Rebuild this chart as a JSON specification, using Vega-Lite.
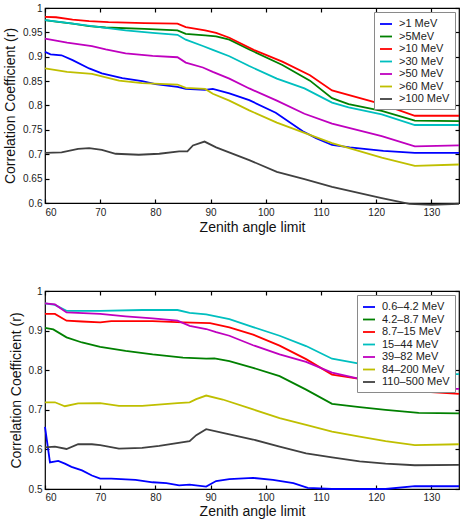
{
  "$schema": "https://vega.github.io/schema/vega-lite/v6.json",
  "background": "white",
  "padding": {"left": 2, "top": 2, "right": 5, "bottom": 4},
  "spacing": 50,
  "config": {
    "view": {"stroke": "black", "strokeWidth": 1.2},
    "font": "Liberation Sans",
    "axis": {
      "labelFont": "Liberation Sans",
      "labelFontSize": 10,
      "labelColor": "#222",
      "titleFont": "Liberation Sans",
      "titleFontSize": 14,
      "titleFontWeight": "normal",
      "titleColor": "#111",
      "grid": false,
      "domain": false,
      "tickColor": "black",
      "tickSize": -4,
      "tickWidth": 1.2
    },
    "legend": {
      "orient": "top-right",
      "offset": 4,
      "strokeColor": "#8a8a8a",
      "fillColor": "white",
      "padding": 5,
      "symbolType": "stroke",
      "symbolSize": 144,
      "symbolStrokeWidth": 2,
      "labelFont": "Liberation Sans",
      "labelFontSize": 11,
      "labelColor": "#222",
      "rowPadding": 0.5,
      "labelOffset": 6
    },
    "line": {"strokeWidth": 1.8, "clip": true}
  },
  "datasets": {
    "top": [
      {"angle": 60, "band": ">1 MeV", "r": 0.910}, {"angle": 61, "band": ">1 MeV", "r": 0.905}, {"angle": 63, "band": ">1 MeV", "r": 0.903}, {"angle": 65, "band": ">1 MeV", "r": 0.893}, {"angle": 68, "band": ">1 MeV", "r": 0.876}, {"angle": 70.3, "band": ">1 MeV", "r": 0.866}, {"angle": 74, "band": ">1 MeV", "r": 0.856}, {"angle": 77.6, "band": ">1 MeV", "r": 0.850}, {"angle": 80, "band": ">1 MeV", "r": 0.844}, {"angle": 84, "band": ">1 MeV", "r": 0.838}, {"angle": 85.5, "band": ">1 MeV", "r": 0.834}, {"angle": 89, "band": ">1 MeV", "r": 0.832}, {"angle": 90.4, "band": ">1 MeV", "r": 0.834}, {"angle": 93.4, "band": ">1 MeV", "r": 0.825}, {"angle": 97, "band": ">1 MeV", "r": 0.811}, {"angle": 101.8, "band": ">1 MeV", "r": 0.785}, {"angle": 106.7, "band": ">1 MeV", "r": 0.747}, {"angle": 109.1, "band": ">1 MeV", "r": 0.733}, {"angle": 112, "band": ">1 MeV", "r": 0.719}, {"angle": 115.2, "band": ">1 MeV", "r": 0.714}, {"angle": 121.3, "band": ">1 MeV", "r": 0.707}, {"angle": 127, "band": ">1 MeV", "r": 0.703}, {"angle": 135, "band": ">1 MeV", "r": 0.703},
      {"angle": 60, "band": ">5MeV", "r": 0.975}, {"angle": 62, "band": ">5MeV", "r": 0.972}, {"angle": 65, "band": ">5MeV", "r": 0.968}, {"angle": 68, "band": ">5MeV", "r": 0.963}, {"angle": 71, "band": ">5MeV", "r": 0.960}, {"angle": 78, "band": ">5MeV", "r": 0.957}, {"angle": 84, "band": ">5MeV", "r": 0.954}, {"angle": 85.5, "band": ">5MeV", "r": 0.947}, {"angle": 89, "band": ">5MeV", "r": 0.944}, {"angle": 91, "band": ">5MeV", "r": 0.942}, {"angle": 93.4, "band": ">5MeV", "r": 0.935}, {"angle": 97, "band": ">5MeV", "r": 0.915}, {"angle": 103, "band": ">5MeV", "r": 0.883}, {"angle": 108, "band": ">5MeV", "r": 0.851}, {"angle": 112, "band": ">5MeV", "r": 0.815}, {"angle": 115, "band": ">5MeV", "r": 0.803}, {"angle": 121, "band": ">5MeV", "r": 0.789}, {"angle": 127, "band": ">5MeV", "r": 0.769}, {"angle": 135, "band": ">5MeV", "r": 0.768},
      {"angle": 60, "band": ">10 MeV", "r": 0.982}, {"angle": 62, "band": ">10 MeV", "r": 0.981}, {"angle": 65, "band": ">10 MeV", "r": 0.976}, {"angle": 68, "band": ">10 MeV", "r": 0.973}, {"angle": 71.5, "band": ">10 MeV", "r": 0.971}, {"angle": 78, "band": ">10 MeV", "r": 0.969}, {"angle": 84, "band": ">10 MeV", "r": 0.968}, {"angle": 85.5, "band": ">10 MeV", "r": 0.961}, {"angle": 89, "band": ">10 MeV", "r": 0.954}, {"angle": 91, "band": ">10 MeV", "r": 0.949}, {"angle": 93.4, "band": ">10 MeV", "r": 0.939}, {"angle": 97.8, "band": ">10 MeV", "r": 0.914}, {"angle": 103, "band": ">10 MeV", "r": 0.890}, {"angle": 108, "band": ">10 MeV", "r": 0.862}, {"angle": 112, "band": ">10 MeV", "r": 0.831}, {"angle": 121, "band": ">10 MeV", "r": 0.803}, {"angle": 127, "band": ">10 MeV", "r": 0.779}, {"angle": 135, "band": ">10 MeV", "r": 0.779},
      {"angle": 60, "band": ">30 MeV", "r": 0.975}, {"angle": 63, "band": ">30 MeV", "r": 0.971}, {"angle": 68.5, "band": ">30 MeV", "r": 0.963}, {"angle": 74.6, "band": ">30 MeV", "r": 0.954}, {"angle": 79.5, "band": ">30 MeV", "r": 0.949}, {"angle": 84, "band": ">30 MeV", "r": 0.945}, {"angle": 85.5, "band": ">30 MeV", "r": 0.935}, {"angle": 88.6, "band": ">30 MeV", "r": 0.922}, {"angle": 90.4, "band": ">30 MeV", "r": 0.914}, {"angle": 93.4, "band": ">30 MeV", "r": 0.901}, {"angle": 97, "band": ">30 MeV", "r": 0.881}, {"angle": 102, "band": ">30 MeV", "r": 0.855}, {"angle": 107, "band": ">30 MeV", "r": 0.835}, {"angle": 112, "band": ">30 MeV", "r": 0.806}, {"angle": 115, "band": ">30 MeV", "r": 0.796}, {"angle": 121, "band": ">30 MeV", "r": 0.782}, {"angle": 127, "band": ">30 MeV", "r": 0.760}, {"angle": 135, "band": ">30 MeV", "r": 0.760},
      {"angle": 60, "band": ">50 MeV", "r": 0.937}, {"angle": 64, "band": ">50 MeV", "r": 0.929}, {"angle": 68.5, "band": ">50 MeV", "r": 0.922}, {"angle": 71, "band": ">50 MeV", "r": 0.915}, {"angle": 74.6, "band": ">50 MeV", "r": 0.907}, {"angle": 79.5, "band": ">50 MeV", "r": 0.902}, {"angle": 84, "band": ">50 MeV", "r": 0.899}, {"angle": 85.5, "band": ">50 MeV", "r": 0.888}, {"angle": 88.6, "band": ">50 MeV", "r": 0.878}, {"angle": 90.4, "band": ">50 MeV", "r": 0.869}, {"angle": 93.4, "band": ">50 MeV", "r": 0.855}, {"angle": 97, "band": ">50 MeV", "r": 0.835}, {"angle": 102, "band": ">50 MeV", "r": 0.810}, {"angle": 107, "band": ">50 MeV", "r": 0.783}, {"angle": 112, "band": ">50 MeV", "r": 0.763}, {"angle": 121, "band": ">50 MeV", "r": 0.737}, {"angle": 127, "band": ">50 MeV", "r": 0.716}, {"angle": 135, "band": ">50 MeV", "r": 0.718},
      {"angle": 60, "band": ">60 MeV", "r": 0.876}, {"angle": 64, "band": ">60 MeV", "r": 0.869}, {"angle": 68.5, "band": ">60 MeV", "r": 0.865}, {"angle": 73.4, "band": ">60 MeV", "r": 0.851}, {"angle": 77.6, "band": ">60 MeV", "r": 0.846}, {"angle": 84, "band": ">60 MeV", "r": 0.843}, {"angle": 85.5, "band": ">60 MeV", "r": 0.836}, {"angle": 89, "band": ">60 MeV", "r": 0.834}, {"angle": 90.4, "band": ">60 MeV", "r": 0.824}, {"angle": 93.4, "band": ">60 MeV", "r": 0.810}, {"angle": 97, "band": ">60 MeV", "r": 0.790}, {"angle": 102, "band": ">60 MeV", "r": 0.765}, {"angle": 107, "band": ">60 MeV", "r": 0.744}, {"angle": 112, "band": ">60 MeV", "r": 0.723}, {"angle": 121, "band": ">60 MeV", "r": 0.693}, {"angle": 127, "band": ">60 MeV", "r": 0.676}, {"angle": 135, "band": ">60 MeV", "r": 0.679},
      {"angle": 60, "band": ">100 MeV", "r": 0.703}, {"angle": 63, "band": ">100 MeV", "r": 0.704}, {"angle": 66, "band": ">100 MeV", "r": 0.711}, {"angle": 68, "band": ">100 MeV", "r": 0.7125}, {"angle": 70.3, "band": ">100 MeV", "r": 0.709}, {"angle": 72.8, "band": ">100 MeV", "r": 0.701}, {"angle": 77, "band": ">100 MeV", "r": 0.699}, {"angle": 80.7, "band": ">100 MeV", "r": 0.701}, {"angle": 84.3, "band": ">100 MeV", "r": 0.706}, {"angle": 85.8, "band": ">100 MeV", "r": 0.706}, {"angle": 86.8, "band": ">100 MeV", "r": 0.718}, {"angle": 88.9, "band": ">100 MeV", "r": 0.726}, {"angle": 91, "band": ">100 MeV", "r": 0.714}, {"angle": 97, "band": ">100 MeV", "r": 0.688}, {"angle": 102, "band": ">100 MeV", "r": 0.664}, {"angle": 107, "band": ">100 MeV", "r": 0.649}, {"angle": 112, "band": ">100 MeV", "r": 0.633}, {"angle": 121, "band": ">100 MeV", "r": 0.610}, {"angle": 126, "band": ">100 MeV", "r": 0.598}, {"angle": 130, "band": ">100 MeV", "r": 0.596}, {"angle": 135, "band": ">100 MeV", "r": 0.598}
    ],
    "bottom": [
      {"angle": 60, "band": "0.6–4.2 MeV", "r": 0.657}, {"angle": 60.9, "band": "0.6–4.2 MeV", "r": 0.567}, {"angle": 62.4, "band": "0.6–4.2 MeV", "r": 0.571}, {"angle": 63.6, "band": "0.6–4.2 MeV", "r": 0.564}, {"angle": 64.8, "band": "0.6–4.2 MeV", "r": 0.556}, {"angle": 66.7, "band": "0.6–4.2 MeV", "r": 0.547}, {"angle": 68.5, "band": "0.6–4.2 MeV", "r": 0.534}, {"angle": 70, "band": "0.6–4.2 MeV", "r": 0.526}, {"angle": 72, "band": "0.6–4.2 MeV", "r": 0.526}, {"angle": 76.4, "band": "0.6–4.2 MeV", "r": 0.523}, {"angle": 79.5, "band": "0.6–4.2 MeV", "r": 0.517}, {"angle": 82, "band": "0.6–4.2 MeV", "r": 0.515}, {"angle": 84.3, "band": "0.6–4.2 MeV", "r": 0.509}, {"angle": 86.2, "band": "0.6–4.2 MeV", "r": 0.511}, {"angle": 89.2, "band": "0.6–4.2 MeV", "r": 0.506}, {"angle": 91, "band": "0.6–4.2 MeV", "r": 0.520}, {"angle": 93.4, "band": "0.6–4.2 MeV", "r": 0.525}, {"angle": 97.7, "band": "0.6–4.2 MeV", "r": 0.528}, {"angle": 101.3, "band": "0.6–4.2 MeV", "r": 0.523}, {"angle": 105, "band": "0.6–4.2 MeV", "r": 0.515}, {"angle": 107.6, "band": "0.6–4.2 MeV", "r": 0.503}, {"angle": 112, "band": "0.6–4.2 MeV", "r": 0.500}, {"angle": 121.7, "band": "0.6–4.2 MeV", "r": 0.500}, {"angle": 127, "band": "0.6–4.2 MeV", "r": 0.507}, {"angle": 135, "band": "0.6–4.2 MeV", "r": 0.507},
      {"angle": 60, "band": "4.2–8.7 MeV", "r": 0.907}, {"angle": 61.5, "band": "4.2–8.7 MeV", "r": 0.903}, {"angle": 63.9, "band": "4.2–8.7 MeV", "r": 0.883}, {"angle": 66.7, "band": "4.2–8.7 MeV", "r": 0.870}, {"angle": 70, "band": "4.2–8.7 MeV", "r": 0.859}, {"angle": 74.6, "band": "4.2–8.7 MeV", "r": 0.849}, {"angle": 79.5, "band": "4.2–8.7 MeV", "r": 0.840}, {"angle": 85, "band": "4.2–8.7 MeV", "r": 0.832}, {"angle": 89.2, "band": "4.2–8.7 MeV", "r": 0.829}, {"angle": 90.7, "band": "4.2–8.7 MeV", "r": 0.830}, {"angle": 93.4, "band": "4.2–8.7 MeV", "r": 0.823}, {"angle": 97.7, "band": "4.2–8.7 MeV", "r": 0.806}, {"angle": 102.5, "band": "4.2–8.7 MeV", "r": 0.785}, {"angle": 107.3, "band": "4.2–8.7 MeV", "r": 0.751}, {"angle": 112, "band": "4.2–8.7 MeV", "r": 0.715}, {"angle": 117, "band": "4.2–8.7 MeV", "r": 0.707}, {"angle": 121.7, "band": "4.2–8.7 MeV", "r": 0.700}, {"angle": 127.7, "band": "4.2–8.7 MeV", "r": 0.692}, {"angle": 135, "band": "4.2–8.7 MeV", "r": 0.691},
      {"angle": 60, "band": "8.7–15 MeV", "r": 0.942}, {"angle": 61.8, "band": "8.7–15 MeV", "r": 0.942}, {"angle": 63.9, "band": "8.7–15 MeV", "r": 0.925}, {"angle": 66.7, "band": "8.7–15 MeV", "r": 0.923}, {"angle": 70, "band": "8.7–15 MeV", "r": 0.921}, {"angle": 72, "band": "8.7–15 MeV", "r": 0.924}, {"angle": 79.5, "band": "8.7–15 MeV", "r": 0.924}, {"angle": 85, "band": "8.7–15 MeV", "r": 0.921}, {"angle": 89.9, "band": "8.7–15 MeV", "r": 0.919}, {"angle": 93.4, "band": "8.7–15 MeV", "r": 0.908}, {"angle": 97.7, "band": "8.7–15 MeV", "r": 0.890}, {"angle": 102.5, "band": "8.7–15 MeV", "r": 0.862}, {"angle": 107.3, "band": "8.7–15 MeV", "r": 0.828}, {"angle": 112, "band": "8.7–15 MeV", "r": 0.789}, {"angle": 117, "band": "8.7–15 MeV", "r": 0.778}, {"angle": 121.7, "band": "8.7–15 MeV", "r": 0.764}, {"angle": 127, "band": "8.7–15 MeV", "r": 0.747}, {"angle": 135, "band": "8.7–15 MeV", "r": 0.740},
      {"angle": 60, "band": "15–44 MeV", "r": 0.969}, {"angle": 61.8, "band": "15–44 MeV", "r": 0.965}, {"angle": 63.9, "band": "15–44 MeV", "r": 0.950}, {"angle": 70, "band": "15–44 MeV", "r": 0.950}, {"angle": 77.6, "band": "15–44 MeV", "r": 0.952}, {"angle": 84, "band": "15–44 MeV", "r": 0.952}, {"angle": 86.2, "band": "15–44 MeV", "r": 0.945}, {"angle": 89.2, "band": "15–44 MeV", "r": 0.941}, {"angle": 93.4, "band": "15–44 MeV", "r": 0.929}, {"angle": 97.7, "band": "15–44 MeV", "r": 0.909}, {"angle": 102.5, "band": "15–44 MeV", "r": 0.887}, {"angle": 107.3, "band": "15–44 MeV", "r": 0.861}, {"angle": 112, "band": "15–44 MeV", "r": 0.829}, {"angle": 115.7, "band": "15–44 MeV", "r": 0.820}, {"angle": 121, "band": "15–44 MeV", "r": 0.806}, {"angle": 127, "band": "15–44 MeV", "r": 0.790}, {"angle": 135, "band": "15–44 MeV", "r": 0.790},
      {"angle": 60, "band": "39–82 MeV", "r": 0.969}, {"angle": 61.8, "band": "39–82 MeV", "r": 0.966}, {"angle": 63.9, "band": "39–82 MeV", "r": 0.946}, {"angle": 70, "band": "39–82 MeV", "r": 0.942}, {"angle": 74.6, "band": "39–82 MeV", "r": 0.936}, {"angle": 79.5, "band": "39–82 MeV", "r": 0.931}, {"angle": 84, "band": "39–82 MeV", "r": 0.925}, {"angle": 86.2, "band": "39–82 MeV", "r": 0.912}, {"angle": 89.2, "band": "39–82 MeV", "r": 0.904}, {"angle": 91, "band": "39–82 MeV", "r": 0.896}, {"angle": 93.4, "band": "39–82 MeV", "r": 0.887}, {"angle": 97.7, "band": "39–82 MeV", "r": 0.863}, {"angle": 102.5, "band": "39–82 MeV", "r": 0.840}, {"angle": 107.3, "band": "39–82 MeV", "r": 0.821}, {"angle": 112, "band": "39–82 MeV", "r": 0.794}, {"angle": 117, "band": "39–82 MeV", "r": 0.778}, {"angle": 127, "band": "39–82 MeV", "r": 0.753}, {"angle": 135, "band": "39–82 MeV", "r": 0.753},
      {"angle": 60, "band": "84–200 MeV", "r": 0.719}, {"angle": 61.8, "band": "84–200 MeV", "r": 0.719}, {"angle": 63.6, "band": "84–200 MeV", "r": 0.709}, {"angle": 66, "band": "84–200 MeV", "r": 0.716}, {"angle": 70, "band": "84–200 MeV", "r": 0.717}, {"angle": 73.4, "band": "84–200 MeV", "r": 0.710}, {"angle": 77.6, "band": "84–200 MeV", "r": 0.710}, {"angle": 84, "band": "84–200 MeV", "r": 0.717}, {"angle": 86.2, "band": "84–200 MeV", "r": 0.719}, {"angle": 87.4, "band": "84–200 MeV", "r": 0.727}, {"angle": 89.2, "band": "84–200 MeV", "r": 0.736}, {"angle": 92.2, "band": "84–200 MeV", "r": 0.726}, {"angle": 97.7, "band": "84–200 MeV", "r": 0.701}, {"angle": 102.5, "band": "84–200 MeV", "r": 0.679}, {"angle": 107.3, "band": "84–200 MeV", "r": 0.662}, {"angle": 112, "band": "84–200 MeV", "r": 0.645}, {"angle": 117, "band": "84–200 MeV", "r": 0.632}, {"angle": 121.7, "band": "84–200 MeV", "r": 0.621}, {"angle": 127, "band": "84–200 MeV", "r": 0.611}, {"angle": 135, "band": "84–200 MeV", "r": 0.613},
      {"angle": 60, "band": "110–500 MeV", "r": 0.605}, {"angle": 61.8, "band": "110–500 MeV", "r": 0.607}, {"angle": 63.9, "band": "110–500 MeV", "r": 0.601}, {"angle": 66, "band": "110–500 MeV", "r": 0.613}, {"angle": 68.5, "band": "110–500 MeV", "r": 0.613}, {"angle": 70, "band": "110–500 MeV", "r": 0.611}, {"angle": 73.4, "band": "110–500 MeV", "r": 0.602}, {"angle": 77.6, "band": "110–500 MeV", "r": 0.604}, {"angle": 80.7, "band": "110–500 MeV", "r": 0.609}, {"angle": 86.2, "band": "110–500 MeV", "r": 0.621}, {"angle": 87.4, "band": "110–500 MeV", "r": 0.636}, {"angle": 89.2, "band": "110–500 MeV", "r": 0.651}, {"angle": 92.2, "band": "110–500 MeV", "r": 0.642}, {"angle": 97.7, "band": "110–500 MeV", "r": 0.625}, {"angle": 102.5, "band": "110–500 MeV", "r": 0.607}, {"angle": 107.3, "band": "110–500 MeV", "r": 0.590}, {"angle": 112, "band": "110–500 MeV", "r": 0.580}, {"angle": 117, "band": "110–500 MeV", "r": 0.570}, {"angle": 121.7, "band": "110–500 MeV", "r": 0.564}, {"angle": 127, "band": "110–500 MeV", "r": 0.560}, {"angle": 135, "band": "110–500 MeV", "r": 0.561}
    ]
  },
  "vconcat": [
    {
      "width": 414,
      "height": 195,
      "data": {"name": "top"},
      "layer": [
        {
          "mark": {"type": "line"},
          "encoding": {
            "x": {"field": "angle", "type": "quantitative", "scale": {"domain": [60, 135], "nice": false, "zero": false},
                  "axis": {"title": "Zenith angle limit", "values": [60, 70, 80, 90, 100, 110, 120, 130], "format": "d", "labelPadding": 8, "titlePadding": 3}},
            "y": {"field": "r", "type": "quantitative", "scale": {"domain": [0.6, 1], "nice": false, "zero": false},
                  "axis": {"title": "Correlation Coefficient (r)", "values": [0.6, 0.65, 0.7, 0.75, 0.8, 0.85, 0.9, 0.95, 1], "format": "~g", "labelPadding": 7, "titlePadding": 5}},
            "color": {"field": "band", "type": "nominal",
                      "scale": {"domain": [">1 MeV", ">5MeV", ">10 MeV", ">30 MeV", ">50 MeV", ">60 MeV", ">100 MeV"],
                                "range": ["#0000ff", "#008000", "#ff0000", "#00bfbf", "#bf00bf", "#bfbf00", "#404040"]},
                      "legend": {"title": null}}
          }
        },
        {
          "mark": {"type": "line", "opacity": 0},
          "encoding": {
            "x": {"field": "angle", "type": "quantitative", "axis": {"orient": "top", "title": null, "labels": false, "values": [60, 70, 80, 90, 100, 110, 120, 130]}},
            "y": {"field": "r", "type": "quantitative", "axis": {"orient": "right", "title": null, "labels": false, "values": [0.6, 0.65, 0.7, 0.75, 0.8, 0.85, 0.9, 0.95, 1]}},
            "detail": {"field": "band"}
          }
        }
      ],
      "resolve": {"axis": {"x": "independent", "y": "independent"}}
    },
    {
      "width": 414,
      "height": 198,
      "data": {"name": "bottom"},
      "layer": [
        {
          "mark": {"type": "line"},
          "encoding": {
            "x": {"field": "angle", "type": "quantitative", "scale": {"domain": [60, 135], "nice": false, "zero": false},
                  "axis": {"title": "Zenith angle limit", "values": [60, 70, 80, 90, 100, 110, 120, 130], "format": "d", "labelPadding": 7, "titlePadding": 2}},
            "y": {"field": "r", "type": "quantitative", "scale": {"domain": [0.5, 1], "nice": false, "zero": false},
                  "axis": {"title": "Correlation Coefficient (r)", "values": [0.5, 0.6, 0.7, 0.8, 0.9, 1], "format": "~g", "labelPadding": 7, "titlePadding": 5}},
            "color": {"field": "band", "type": "nominal",
                      "scale": {"domain": ["0.6–4.2 MeV", "4.2–8.7 MeV", "8.7–15 MeV", "15–44 MeV", "39–82 MeV", "84–200 MeV", "110–500 MeV"],
                                "range": ["#0000ff", "#008000", "#ff0000", "#00bfbf", "#bf00bf", "#bfbf00", "#404040"]},
                      "legend": {"title": null}}
          }
        },
        {
          "mark": {"type": "line", "opacity": 0},
          "encoding": {
            "x": {"field": "angle", "type": "quantitative", "axis": {"orient": "top", "title": null, "labels": false, "values": [60, 70, 80, 90, 100, 110, 120, 130]}},
            "y": {"field": "r", "type": "quantitative", "axis": {"orient": "right", "title": null, "labels": false, "values": [0.5, 0.6, 0.7, 0.8, 0.9, 1]}},
            "detail": {"field": "band"}
          }
        }
      ],
      "resolve": {"axis": {"x": "independent", "y": "independent"}}
    }
  ],
  "resolve": {"scale": {"color": "independent"}}
}
